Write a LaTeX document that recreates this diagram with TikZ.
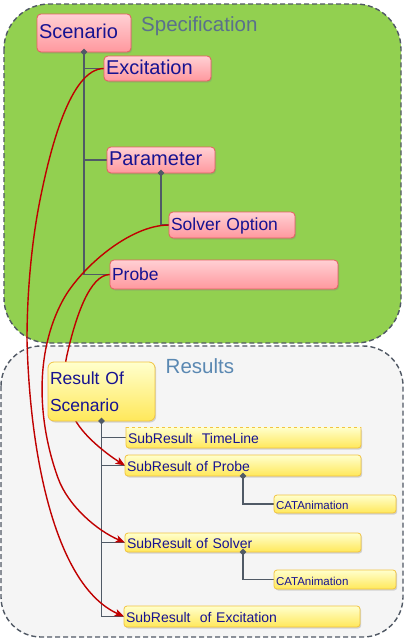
\documentclass[tikz,border=0pt]{standalone}
\usepackage{fontspec}
\setmainfont{Liberation Sans}
\usetikzlibrary{shapes.geometric,shadows,arrows.meta}
\definecolor{green1}{RGB}{146,208,80}
\definecolor{resbg}{RGB}{245,245,245}
\definecolor{framec}{RGB}{80,88,100}
\definecolor{treec}{RGB}{80,90,102}
\definecolor{navy}{RGB}{22,18,145}
\definecolor{pinktop}{RGB}{255,208,212}
\definecolor{pinkbot}{RGB}{255,152,158}
\definecolor{pinkbd}{RGB}{232,92,98}
\definecolor{yeltop}{RGB}{255,255,205}
\definecolor{yelbot}{RGB}{255,232,90}
\definecolor{yelbd}{RGB}{242,196,64}
\definecolor{redc}{RGB}{192,0,0}
\definecolor{spectitle}{RGB}{90,112,140}
\definecolor{restitle}{RGB}{90,136,178}
\pgfdeclarelayer{bg}\pgfdeclarelayer{lines}\pgfsetlayers{bg,lines,main}
\tikzset{
 contbox/.style={draw=framec, line width=1.4pt, dash pattern=on 5pt off 3pt, rounded corners=45pt},
 basebox/.style={anchor=north west, outer sep=0pt, inner xsep=2pt, inner ysep=0pt, align=left, text=navy,
   drop shadow={shadow xshift=1.2pt, shadow yshift=-1.5pt, opacity=0.3}},
 pinkbox/.style={basebox, draw=pinkbd, line width=0.8pt, top color=pinktop, bottom color=pinkbot, rounded corners=4pt},
 yelbox/.style={basebox, draw=yelbd, line width=0.8pt, top color=yeltop, bottom color=yelbot, rounded corners=3pt},
 yelborder/.style={draw=yelbd, line width=0.8pt},
 oneline/.style={text height=1.15em, text depth=0.05em},
 fbig/.style={font=\fontsize{20}{24}\selectfont},
 fmid/.style={font=\fontsize{17.5}{21}\selectfont},
 fsmall/.style={font=\fontsize{14}{17}\selectfont},
 ftiny/.style={font=\fontsize{11.5}{14}\selectfont},
 treeline/.style={draw=treec, line width=1.5pt},
 dmd/.style={diamond, fill=treec, inner sep=0pt, minimum size=7pt},
 redlink/.style={draw=redc, line width=1.4pt},
 redarr/.style={redlink, -{Stealth[length=9.5pt,width=7.5pt,inset=2.5pt]}},
 titletext/.style={anchor=base west, inner sep=0pt, font=\fontsize{20.5}{24}\selectfont},
}
\begin{document}
\begin{tikzpicture}[x=1pt,y=1pt]
\useasboundingbox (0,0) rectangle (406,-640);
\begin{pgfonlayer}{bg}
\draw[contbox, fill=green1] (4,-4) rectangle (401,-343);
\draw[contbox, fill=resbg, rounded corners=40pt] (1,-346) rectangle (403,-637);
\end{pgfonlayer}
\node[titletext, text=spectitle] (spect) at (141,-31) {Specification};
\node[titletext, text=restitle] (rest) at (165.5,-373) {Results};
% specification nodes
\node[pinkbox, fbig, oneline, text width=90pt, minimum height=38pt] (scen) at (37,-14) {Scenario};
\node[pinkbox, fbig, oneline, text width=103pt, minimum height=25pt] (exc) at (104,-56) {Excitation};
\node[pinkbox, fbig, oneline, text width=104pt, minimum height=26pt] (par) at (107,-147) {Parameter};
\node[pinkbox, fmid, oneline, text width=122pt, minimum height=26pt] (sol) at (169,-212) {Solver Option};
\node[pinkbox, fmid, oneline, text width=224pt, minimum height=29pt] (prb) at (110,-260) {Probe};
% result nodes
\node[yelbox, rounded corners=6pt, font=\fontsize{17.5}{26.7}\selectfont, text width=103pt, minimum height=59pt] (res) at (48,-362) {Result Of\\Scenario};
\node[yelbox, draw=none, fsmall, oneline, text width=231pt, minimum height=21pt] (stl) at (126,-427) {SubResult\ \ TimeLine};
\draw[yelborder, rounded corners=3pt] (stl.north east) -- (stl.south east) -- (stl.south west) -- (stl.north west);
\draw[yelborder, dashed] (stl.north west) -- (stl.north east);
\node[yelbox, fsmall, oneline, text width=232pt, minimum height=21pt] (spr) at (125,-455) {SubResult of Probe};
\node[yelbox, ftiny, oneline, text width=118pt, minimum height=18pt] (cat1) at (274,-495) {CATAnimation};
\node[yelbox, fsmall, oneline, text width=232pt, minimum height=19pt] (ssv) at (125,-533) {SubResult of Solver};
\node[yelbox, ftiny, oneline, text width=118pt, minimum height=19pt] (cat2) at (274,-570) {CATAnimation};
\node[yelbox, fsmall, oneline, text width=232pt, minimum height=21pt] (sex) at (124,-606) {SubResult\ \ of Excitation};
% tree lines
\begin{pgfonlayer}{lines}
\draw[treeline] (scen.south) |- (prb.west);
\draw[treeline] (scen.south |- exc.west) -- (exc.west);
\draw[treeline] (scen.south |- par.west) -- (par.west);
\draw[treeline] (par.south) |- (sol.west);
\draw[treeline] (res.south) |- (sex.west);
\draw[treeline] (res.south |- stl.west) -- (stl.west);
\draw[treeline] (res.south |- spr.west) -- (spr.west);
\draw[treeline] (res.south |- ssv.west) -- (ssv.west);
\draw[treeline] (spr.south) |- (cat1.west);
\draw[treeline] (ssv.south) |- (cat2.west);
% red links
\draw[redarr] (exc.west) .. controls (70,-68.5) and (49.8,-151) .. (40,-200)
  .. controls (31.2,-244) and (27,-295) .. (27,-340)
  .. controls (30,-460) and (56.5,-586.5) .. (sex.west);
\draw[redarr] (sol.west) .. controls (129,-225) and (79.8,-269) .. (63,-300)
  .. controls (34.2,-352.8) and (37.6,-421.6) .. (58,-478)
  .. controls (68.2,-506.2) and (97.4,-530.8) .. (ssv.west);
\draw[redarr] (prb.west) .. controls (90,-274.5) and (75.8,-316) .. (67,-355)
  .. controls (61.5,-379) and (66.2,-406.2) .. (77,-423)
  .. controls (87.8,-439.8) and (109.7,-456) .. (spr.west);
\end{pgfonlayer}
% diamonds
\node[dmd] (d1) at (scen.south) {};
\node[dmd] (d2) at (par.south) {};
\node[dmd] (d3) at (res.south) {};
\node[dmd] (d4) at (spr.south) {};
\node[dmd] (d5) at (ssv.south) {};
\end{tikzpicture}
\end{document}
